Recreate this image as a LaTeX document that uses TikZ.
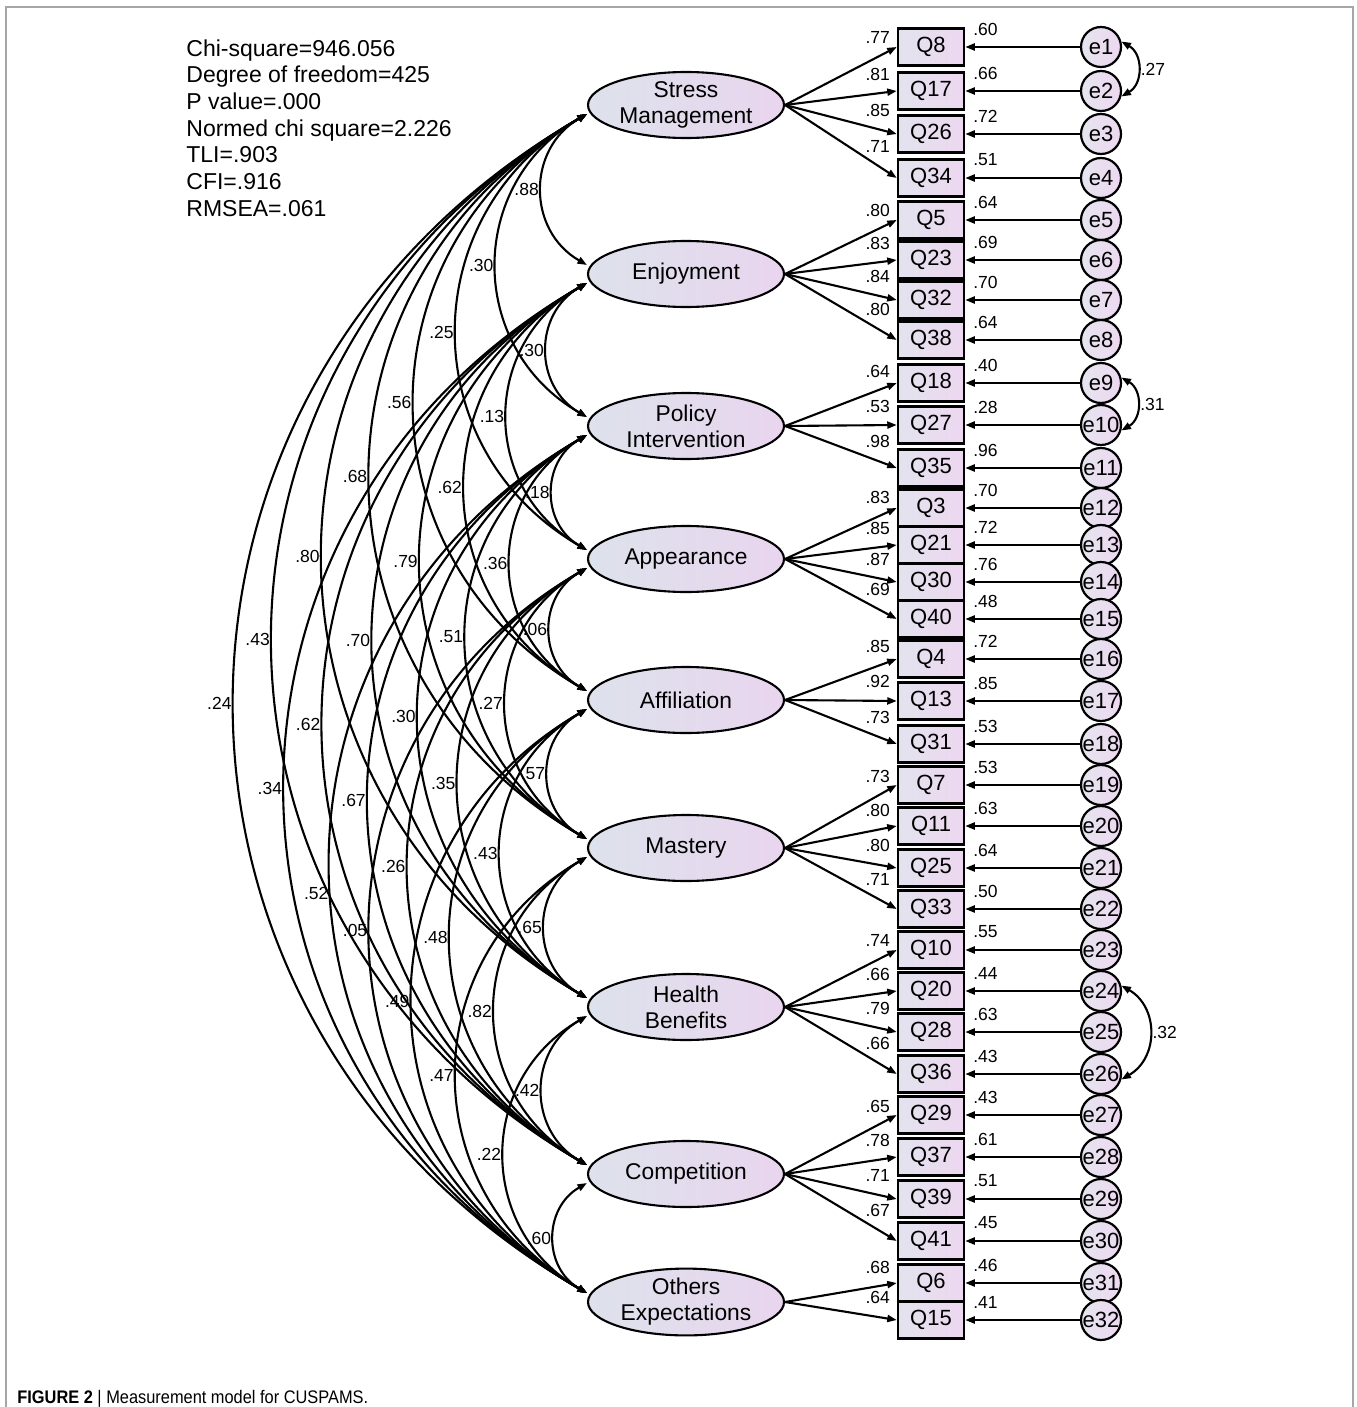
\documentclass[tikz,border=0pt]{standalone}
\usepackage{fontspec}
\setmainfont{Liberation Sans}
\newfontfamily\capfont[FakeStretch=0.9]{Liberation Sans}
\usetikzlibrary{arrows.meta,shapes.geometric}
\definecolor{latL}{HTML}{DDE2EC}
\definecolor{latR}{HTML}{E9D5EE}
\definecolor{obsL}{HTML}{E3E3EE}
\definecolor{obsR}{HTML}{EDD7F0}
\definecolor{errL}{HTML}{E6E4EF}
\definecolor{errR}{HTML}{EDD8F0}

\begin{document}
\begin{tikzpicture}[x=0.5pt,y=-0.5pt,
  latent/.style={ellipse, draw=black, line width=1.05pt, left color=latL, right color=latR, minimum width=98pt, minimum height=33pt, inner sep=0pt, align=center, font=\fontsize{11.4}{13}\selectfont},
  obs/.style={rectangle, draw=black, line width=1.25pt, left color=obsL, right color=obsR, minimum width=33pt, minimum height=18.5pt, inner sep=0pt, font=\fontsize{11}{12}\selectfont},
  err/.style={circle, draw=black, line width=1.1pt, left color=errL, right color=errR, minimum size=20pt, inner sep=0pt, font=\fontsize{11}{12}\selectfont},
  loadarrow/.style={line width=1.05pt, arrows={-Triangle[length=4.75pt,width=3.5pt]}},
  covarc/.style={line width=1.05pt, arrows={Triangle[length=4.75pt,width=3.5pt]-Triangle[length=4.75pt,width=3.5pt]}, looseness=1.18},
  num/.style={font=\fontsize{8.75}{9}\selectfont, inner sep=0pt}]
\useasboundingbox (0,0) rectangle (1356,1407);
\draw[black!35, line width=0.75pt] (6,1407) -- (6,7) -- (1353,7) -- (1353,1407);
\node[anchor=north west, align=left, inner sep=0pt, font=\fontsize{11.5}{13.35}\selectfont] (fit) at (186,39) {Chi-square=946.056\\Degree of freedom=425\\P value=.000\\Normed chi square=2.226\\TLI=.903\\CFI=.916\\RMSEA=.061};
\node[anchor=base west, inner sep=0pt, font=\capfont\fontsize{9.1}{10}\selectfont] (cap) at (17,1403) {\textbf{FIGURE 2} | Measurement model for CUSPAMS.};
\foreach \n/\y/\t in {1/105/{Stress\\Management}, 2/274/{Enjoyment}, 3/426/{Policy\\Intervention}, 4/559/{Appearance}, 5/700/{Affiliation}, 6/848/{Mastery}, 7/1007/{Health\\Benefits}, 8/1174/{Competition}, 9/1302/{Others\\Expectations}}
  \node[latent] (f\n) at (686,\y) {\t};
\foreach \e/\q/\y/\f/\l/\r in {1/8/47/1/.77/.60, 2/17/91/1/.81/.66, 3/26/134/1/.85/.72, 4/34/178/1/.71/.51, 5/5/220/2/.80/.64, 6/23/260/2/.83/.69, 7/32/300/2/.84/.70, 8/38/340/2/.80/.64, 9/18/383/3/.64/.40, 10/27/425/3/.53/.28, 11/35/468/3/.98/.96, 12/3/508/4/.83/.70, 13/21/545/4/.85/.72, 14/30/582/4/.87/.76, 15/40/619/4/.69/.48, 16/4/659/5/.85/.72, 17/13/701/5/.92/.85, 18/31/744/5/.73/.53, 19/7/785/6/.73/.53, 20/11/826/6/.80/.63, 21/25/868/6/.80/.64, 22/33/909/6/.71/.50, 23/10/950/7/.74/.55, 24/20/991/7/.66/.44, 25/28/1032/7/.79/.63, 26/36/1074/7/.66/.43, 27/29/1115/8/.65/.43, 28/37/1157/8/.78/.61, 29/39/1199/8/.71/.51, 30/41/1241/8/.67/.45, 31/6/1283/9/.68/.46, 32/15/1320/9/.64/.41}{
  \node[obs] (q\q) at (931,\y) {Q\q};
  \node[err] (e\e) at (1101,\y) {e\e};
  \draw[loadarrow] (f\f.east) -- (q\q.west) node[num, pos=.83, yshift=9.5pt] {\l};
  \draw[loadarrow] (e\e) -- (q\q) node[num, pos=1, anchor=west, xshift=3.5pt, yshift=9pt] {\r};
}
\foreach \i/\j/\c in {1/2/.88, 2/3/.30, 3/4/.18, 4/5/.06, 5/6/.57, 6/7/.65, 7/8/.42, 8/9/.60, 1/3/.30, 2/4/.13, 3/5/.36, 4/6/.27, 5/7/.43, 6/8/.82, 7/9/.22, 1/4/.25, 2/5/.62, 3/6/.51, 4/7/.35, 5/8/.48, 6/9/.47, 1/5/.56, 2/6/.79, 3/7/.30, 4/8/.26, 5/9/.49, 1/6/.68, 2/7/.70, 3/8/.67, 4/9/.05, 1/7/.80, 2/8/.62, 1/8/.43, 2/9/.34, 1/9/.24}
  \draw[covarc] ([yshift=-4.5pt]f\i.west) to[bend right=60] node[num, midway, anchor=east, inner sep=1pt] {\c} ([yshift=4.5pt]f\j.west);
\draw[covarc] ([yshift=-4.5pt]f3.west) to[bend right=60] node[num, pos=.53, anchor=east, inner sep=1pt] {.52} ([yshift=4.5pt]f9.west);
\draw[covarc] (e1.15) to[bend left=60] node[num, midway, anchor=west, inner sep=1pt] {.27} (e2.-15);
\draw[covarc] (e9.15) to[bend left=60] node[num, midway, anchor=west, inner sep=1pt] {.31} (e10.-15);
\draw[covarc] (e24.15) to[bend left=60] node[num, midway, anchor=west, inner sep=1pt] {.32} (e26.-15);
\end{tikzpicture}
\end{document}
